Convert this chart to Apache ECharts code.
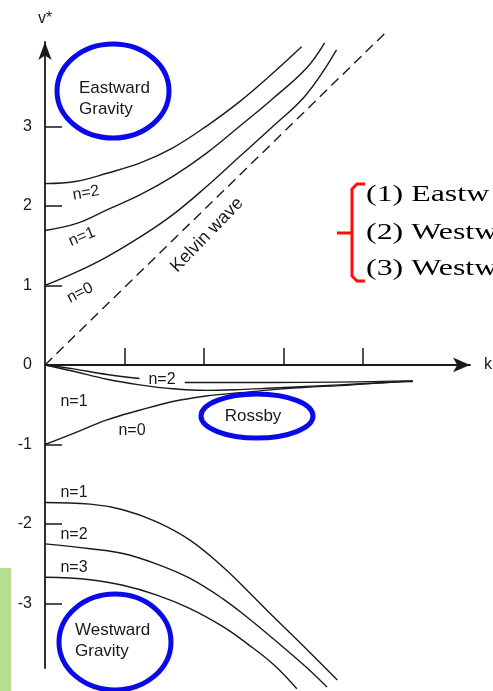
<!DOCTYPE html>
<html>
<head>
<meta charset="utf-8">
<script src="https://cdn.jsdelivr.net/npm/echarts@6/dist/echarts.min.js"></script>
<style>
html,body{margin:0;padding:0;background:#fff;}
#chart{width:493px;height:691px;}
</style>
</head>
<body>
<div id="chart"></div>
<script>
// ---- data (k, nu*) ----
const kTicks = [1, 2, 3, 4];
const vTicks = [-3, -2, -1, 0, 1, 2, 3];

const kelvin = [[0, 0], [4.3, 4.19]];
const eastN0 = [[0, 1.0], [0.4, 1.17], [0.78, 1.36], [1.2, 1.61], [1.61, 1.89], [2.03, 2.24], [2.45, 2.62], [2.87, 3.0], [3.29, 3.4], [3.67, 3.96]];
const eastN1 = [[0, 1.69], [0.4, 1.78], [0.78, 1.95], [1.2, 2.14], [1.61, 2.37], [2.03, 2.66], [2.45, 3.0], [2.87, 3.35], [3.29, 3.73], [3.52, 4.05]];
const eastN2 = [[0, 2.28], [0.4, 2.31], [0.78, 2.41], [1.2, 2.54], [1.61, 2.73], [2.03, 3.0], [2.45, 3.31], [2.87, 3.67], [3.23, 4.0]];

const rossbyN2a = [[0, 0], [0.36, -0.05], [0.78, -0.12], [1.19, -0.17]];
const rossbyN2b = [[1.76, -0.22], [2.87, -0.22], [4.63, -0.2]];
const rossbyN1 = [[0, 0], [0.36, -0.08], [0.78, -0.18], [1.19, -0.25], [1.61, -0.3], [2.03, -0.32], [2.45, -0.31], [2.87, -0.29], [3.29, -0.27], [3.71, -0.25], [4.13, -0.23], [4.63, -0.2]];
const westN0 = [[0, -1.0], [0.36, -0.86], [0.78, -0.69], [1.19, -0.57], [1.61, -0.46], [2.03, -0.39], [2.45, -0.35], [2.87, -0.31], [3.29, -0.28], [3.71, -0.26], [4.13, -0.23], [4.63, -0.21]];

const westN1 = [[0, -1.73], [0.57, -1.75], [0.98, -1.82], [1.4, -1.97], [1.82, -2.2], [2.24, -2.54], [2.58, -2.87], [2.87, -3.16], [3.29, -3.57], [3.68, -3.96]];
const westN2 = [[0, -2.25], [0.57, -2.31], [0.98, -2.37], [1.4, -2.5], [1.82, -2.68], [2.24, -2.94], [2.58, -3.2], [2.87, -3.44], [3.29, -3.8], [3.55, -4.05]];
const westN3 = [[0, -2.67], [0.57, -2.7], [0.98, -2.77], [1.4, -2.89], [1.82, -3.06], [2.24, -3.29], [2.54, -3.5], [2.87, -3.76], [3.17, -4.07]];

// ---- chart ----
const chart = echarts.init(document.getElementById('chart'), null, {renderer: 'canvas'});
const SANS = '"Liberation Sans", Arial, Helvetica, sans-serif';
const SERIF = '"Liberation Serif", "Times New Roman", serif';
const INK = '#1a1a1a';
const BLUE = '#0a0ae8';
const RED = '#ff0d0d';

function curve(data, extra) {
  return Object.assign({
    type: 'line', data: data, symbol: 'none', clip: false,
    smooth: 0.4, silent: true,
    lineStyle: {color: INK, width: 1.4}
  }, extra || {});
}

function label(text, x, y, deg, size) {
  return {
    type: 'text', x: x, y: y, rotation: (deg || 0) * Math.PI / 180, z: 20,
    style: {text: text, font: (size || 16) + 'px ' + SANS, fill: INK, align: 'center', verticalAlign: 'middle'}
  };
}

function redText(text, y) {
  return {type: 'text', x: 366, y: y, scaleX: 1.33, z: 20,
    style: {text: text, font: '24px ' + SERIF, fill: '#000', align: 'left', verticalAlign: 'middle'}};
}

const option = {
  animation: false,
  backgroundColor: '#fff',
  grid: {left: 45, right: 23, top: 42, bottom: 23, containLabel: false, outerBoundsMode: 'none'},
  xAxis: {
    type: 'value', min: 0, max: 5.35,
    name: 'k', nameLocation: 'end', nameGap: 14,
    nameTextStyle: {fontFamily: SANS, fontSize: 16, color: INK},
    axisLine: {onZero: true, symbol: ['none', 'arrow'], symbolSize: [11, 17], lineStyle: {color: INK, width: 1.8}},
    axisTick: {show: true, inside: true, length: 17, customValues: kTicks, lineStyle: {color: INK, width: 1.5}},
    axisLabel: {show: false},
    splitLine: {show: false}
  },
  yAxis: {
    type: 'value', min: -3.81, max: 4.06,
    name: 'v*', nameLocation: 'end', nameGap: 15,
    nameTextStyle: {fontFamily: SANS, fontSize: 16, color: INK, align: 'center'},
    axisLine: {onZero: false, symbol: ['none', 'arrow'], symbolSize: [10, 18], lineStyle: {color: INK, width: 1.8}},
    axisTick: {show: true, inside: true, length: 17, customValues: vTicks, lineStyle: {color: INK, width: 1.5}},
    axisLabel: {show: true, customValues: vTicks, margin: 13, fontFamily: SANS, fontSize: 16, color: INK},
    splitLine: {show: false}
  },
  series: [
    curve(kelvin, {smooth: false, lineStyle: {color: INK, width: 1.4, type: [10, 6]}}),
    curve(eastN0), curve(eastN1), curve(eastN2),
    curve(rossbyN2a), curve(rossbyN2b), curve(rossbyN1), curve(westN0),
    curve(westN1), curve(westN2), curve(westN3)
  ],
  graphic: [
    // green strip
    {type: 'rect', shape: {x: 0, y: 568, width: 11, height: 123}, style: {fill: '#b7dd8e'}, z: 1},
    // blue ellipses
    {type: 'ellipse', shape: {cx: 113, cy: 91, rx: 56, ry: 47}, style: {fill: 'none', stroke: BLUE, lineWidth: 5}, z: 10},
    {type: 'ellipse', shape: {cx: 257, cy: 416, rx: 56, ry: 22}, style: {fill: 'none', stroke: BLUE, lineWidth: 5}, z: 10},
    {type: 'ellipse', shape: {cx: 115, cy: 642, rx: 56, ry: 48}, style: {fill: 'none', stroke: BLUE, lineWidth: 5}, z: 10},
    // red bracket
    {type: 'polyline', shape: {points: [[365, 184], [357, 184], [352, 189], [352, 276], [357, 281], [365, 281]]}, style: {fill: 'none', stroke: RED, lineWidth: 3}, z: 10},
    {type: 'line', shape: {x1: 337, y1: 233, x2: 352, y2: 233}, style: {stroke: RED, lineWidth: 3}, z: 10},
    redText('(1) Eastw', 195),
    redText('(2) Westw', 233),
    redText('(3) Westw', 269),
    // ellipse texts
    {type: 'text', x: 79, y: 88, z: 20, style: {text: 'Eastward', font: '17px ' + SANS, fill: INK, align: 'left', verticalAlign: 'middle'}},
    {type: 'text', x: 79, y: 109, z: 20, style: {text: 'Gravity', font: '17px ' + SANS, fill: INK, align: 'left', verticalAlign: 'middle'}},
    {type: 'text', x: 75, y: 630, z: 20, style: {text: 'Westward', font: '17px ' + SANS, fill: INK, align: 'left', verticalAlign: 'middle'}},
    {type: 'text', x: 75, y: 651, z: 20, style: {text: 'Gravity', font: '17px ' + SANS, fill: INK, align: 'left', verticalAlign: 'middle'}},
    label('Rossby', 253, 416, 0, 17),
    // curve labels
    label('n=2', 86, 193, 10),
    label('n=1', 82, 237, 22),
    label('n=0', 80, 293, 27),
    label('Kelvin wave', 207, 235, 46, 18),
    label('n=2', 162, 380, 0),
    label('n=1', 74, 402, 0),
    label('n=0', 132, 431, 0),
    label('n=1', 74, 493, 0),
    label('n=2', 74, 535, 0),
    label('n=3', 74, 568, 0)
  ]
};
chart.setOption(option);
</script>
</body>
</html>
